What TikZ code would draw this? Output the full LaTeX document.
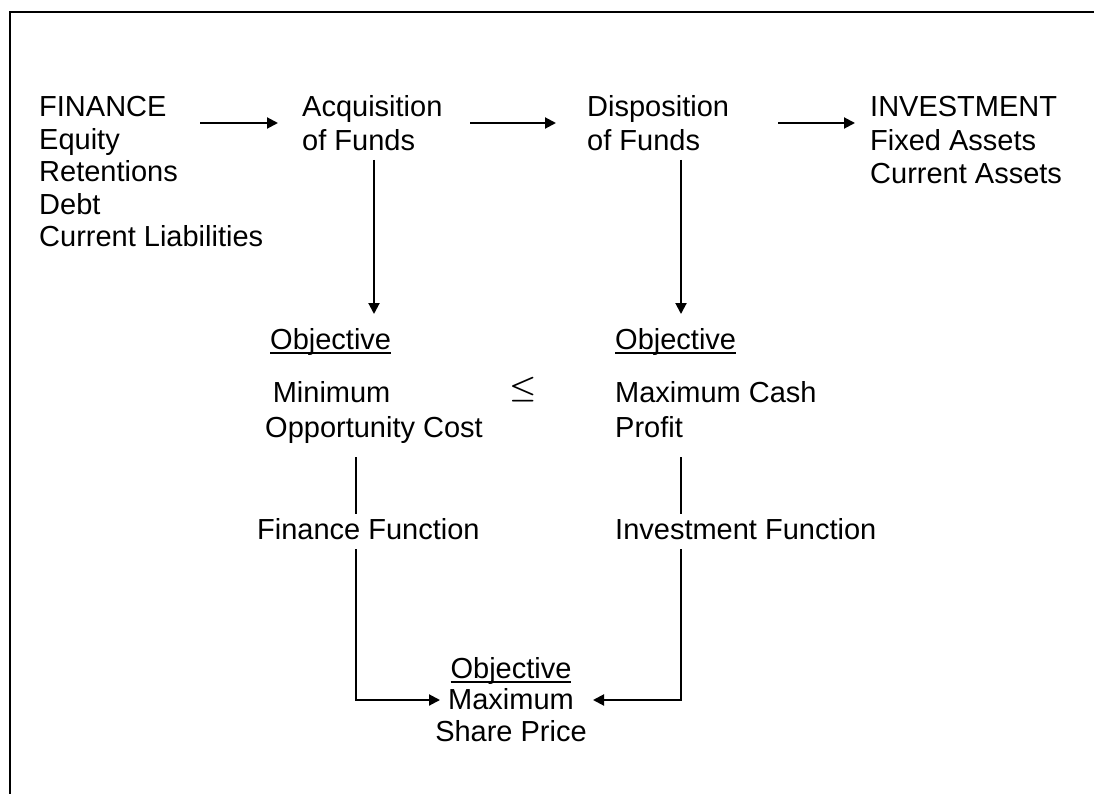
\documentclass[tikz,border=0pt]{standalone}
\usepackage{fontspec}
\setmainfont{Liberation Sans}
\usetikzlibrary{arrows.meta}
\newcommand\ulword[1]{\setbox0\hbox{#1}\rlap{\rule[-4.5pt]{\wd0}{2pt}}\box0}
\begin{document}
\begin{tikzpicture}[x=1pt,y=-1pt,
  txt/.style={font=\fontsize{29}{33.5}\selectfont, inner sep=0pt, align=left, anchor=base west},
  ln/.style={line width=2pt},
  arr/.style={line width=2pt, -{Triangle[length=11pt,width=11pt]}}]
\useasboundingbox (0,0) rectangle (1094,794);
\draw[line width=2pt] (10,794) -- (10,12) -- (1094,12);

% top row (anchor = baseline of the last line)
\node[txt, font=\fontsize{29}{32.5}\selectfont] (fin) at (39,247) {FINANCE\\Equity\\Retentions\\Debt\\Current Liabilities};
\node[txt, font=\fontsize{29}{34}\selectfont] (acq) at (302,151) {Acquisition\\of Funds};
\node[txt, font=\fontsize{29}{34}\selectfont] (dis) at (587,151) {Disposition\\of Funds};
\node[txt] (inv) at (870,184) {INVESTMENT\\Fixed Assets\\Current Assets};

% objectives
\node[txt] (objL) at (270,349) {\ulword{Objective}};
\node[txt, font=\fontsize{29}{35.5}\selectfont] (minL) at (265,437.5) {\hspace*{7.6pt}Minimum\\Opportunity Cost};
\node[txt, font=\fontsize{28}{28}\selectfont] (le) at (509,396.5) {\scalebox{1.23}[1.11]{\boldmath$\leq$}};
\node[txt] (objR) at (615,349) {\ulword{Objective}};
\node[txt, font=\fontsize{29}{35.5}\selectfont] (maxR) at (615,437.5) {Maximum Cash\\Profit};

% functions
\node[txt] (ffun) at (257,539) {Finance Function};
\node[txt] (ifun) at (615,539) {Investment Function};

% final objective
\node[txt, align=center, anchor=base, font=\fontsize{29}{31.5}\selectfont] (final) at (511,741) {\ulword{Objective}\\Maximum\\Share Price};

% connector end points
\coordinate (a1s) at (200,123); \coordinate (a1e) at (278,123);
\coordinate (a2s) at (470,123); \coordinate (a2e) at (556,123);
\coordinate (a3s) at (778,123); \coordinate (a3e) at (855,123);
\coordinate (v1s) at (374,160); \coordinate (v1e) at (374,314);
\coordinate (v2s) at (681,160); \coordinate (v2e) at (681,314);
\coordinate (l1s) at (356,457); \coordinate (l1e) at (356,514);
\coordinate (l2s) at (356,549); \coordinate (l2c) at (356,700); \coordinate (l2e) at (440,700);
\coordinate (r1s) at (681,457); \coordinate (r1e) at (681,514);
\coordinate (r2s) at (681,549); \coordinate (r2c) at (681,700); \coordinate (r2e) at (593,700);

\draw[arr] (a1s) -- (a1e);
\draw[arr] (a2s) -- (a2e);
\draw[arr] (a3s) -- (a3e);
\draw[arr] (v1s) -- (v1e);
\draw[arr] (v2s) -- (v2e);
\draw[ln] (l1s) -- (l1e);
\draw[arr] (l2s) -- (l2c) -- (l2e);
\draw[ln] (r1s) -- (r1e);
\draw[arr] (r2s) -- (r2c) -- (r2e);
\end{tikzpicture}
\end{document}
